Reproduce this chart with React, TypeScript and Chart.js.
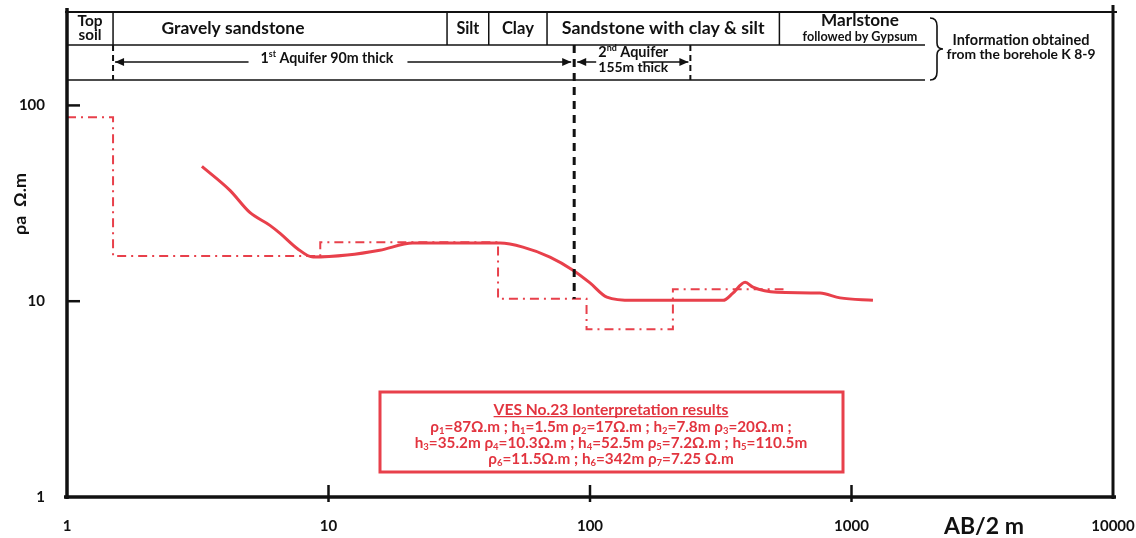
import React, { useEffect, useRef } from "react";
import { Chart, registerables } from "chart.js";

Chart.register(...registerables);

// Measured apparent resistivity curve (AB/2 in m, rho_a in ohm.m)
const abHalf = [3.28, 4.2, 5.0, 5.97, 6.53, 7.59, 8.73, 11.8, 15.7, 21.0, 26.7, 45.3, 55.4, 70.3, 86.1, 100, 116, 146, 197, 323, 352, 392, 420, 519, 758, 904, 1208];
const rhoApparent = [48.8, 36.8, 28.4, 24.4, 22.2, 18.6, 16.8, 17.2, 18.2, 19.8, 19.8, 19.8, 18.9, 16.8, 14.4, 12.4, 10.5, 10.1, 10.1, 10.1, 11.0, 12.5, 11.8, 11.1, 11.0, 10.4, 10.1];

// Interpreted layer model
const layerRho = [87, 17, 20, 10.3, 7.2, 11.5, 7.25];
const layerThickness = [1.5, 7.8, 35.2, 52.5, 110.5, 342];

// Borehole K 8-9 lithology (unit boundaries, m)
const lithoLabels = ["Top soil", "Gravely sandstone", "Silt", "Clay", "Sandstone with clay & silt", "Marlstone"];
const lithoBounds = [1.5, 28.4, 41, 68.5, 530];

// Aquifer limits (m)
const aquiferBounds = [1.5, 87, 242];

// Axis ticks
const xTicks = [1, 10, 100, 1000, 10000];
const yTicks = [1, 10, 100];

const legendTitle = "VES No.23 Ionterpretation results";
const legendLines = [
  "ρ_1=87Ω.m ; h_1=1.5m ρ_2=17Ω.m ; h_2=7.8m ρ_3=20Ω.m ;",
  "h_3=35.2m ρ_4=10.3Ω.m ; h_4=52.5m ρ_5=7.2Ω.m ; h_5=110.5m",
  "ρ_6=11.5Ω.m ; h_6=342m ρ_7=7.25 Ω.m",
];

const FONT = "Lato, 'Open Sans', sans-serif";
const RED = "#e8404b";
const TXTRED = "#e2343f";

type Seg = { t: string; k: number; w?: number };

function parseRich(text: string): Seg[] {
  const segs: Seg[] = [];
  let buf = "";
  let i = 0;
  while (i < text.length) {
    const c = text[i];
    if ((c === "_" || c === "^") && i + 1 < text.length) {
      if (buf) segs.push({ t: buf, k: 0 });
      buf = "";
      let j = i + 1;
      let s = "";
      if (text[j] === "{") {
        j++;
        while (j < text.length && text[j] !== "}") s += text[j++];
        j++;
      } else {
        s = text[j];
        j++;
      }
      segs.push({ t: s, k: c === "_" ? 1 : 2 });
      i = j;
      continue;
    }
    buf += c;
    i++;
  }
  if (buf) segs.push({ t: buf, k: 0 });
  return segs;
}

function measureRich(ctx: CanvasRenderingContext2D, segs: Seg[], size: number) {
  const small = size * 0.62;
  let w = 0;
  for (const s of segs) {
    ctx.font = `bold ${s.k ? small : size}px ${FONT}`;
    s.w = ctx.measureText(s.t).width;
    w += s.w;
  }
  return w;
}

function fitSize(ctx: CanvasRenderingContext2D, text: string, size: number, fitW: number) {
  const w = measureRich(ctx, parseRich(text), size);
  return (size * fitW) / w;
}

// draws rich text centred at cx; if fitW given, font size is adjusted so the width equals fitW
function drawRich(ctx: CanvasRenderingContext2D, text: string, cx: number, cy: number, size: number, color: string, fitW?: number) {
  const segs = parseRich(text);
  let w = measureRich(ctx, segs, size);
  if (fitW) {
    size = size * (fitW / w);
    w = measureRich(ctx, segs, size);
  }
  const small = size * 0.62;
  let x = cx - w / 2;
  const base = cy + size * 0.36;
  ctx.save();
  ctx.fillStyle = color;
  ctx.textAlign = "left";
  ctx.textBaseline = "alphabetic";
  for (const s of segs) {
    ctx.font = `bold ${s.k ? small : size}px ${FONT}`;
    const y = base + (s.k === 1 ? size * 0.18 : s.k === 2 ? -size * 0.42 : 0);
    ctx.fillText(s.t, x, y);
    x += s.w || 0;
  }
  ctx.restore();
  return { left: cx - w / 2, width: w, base };
}

function line(ctx: CanvasRenderingContext2D, x1: number, y1: number, x2: number, y2: number, w: number, color = "#111", dash: number[] = []) {
  ctx.save();
  ctx.strokeStyle = color;
  ctx.lineWidth = w;
  ctx.setLineDash(dash);
  ctx.beginPath();
  ctx.moveTo(x1, y1);
  ctx.lineTo(x2, y2);
  ctx.stroke();
  ctx.restore();
}

function arrowHead(ctx: CanvasRenderingContext2D, x: number, y: number, dir: number) {
  ctx.save();
  ctx.fillStyle = "#111";
  ctx.beginPath();
  ctx.moveTo(x, y);
  ctx.lineTo(x - dir * 9, y - 4);
  ctx.lineTo(x - dir * 9, y + 4);
  ctx.closePath();
  ctx.fill();
  ctx.restore();
}

function text(ctx: CanvasRenderingContext2D, s: string, x: number, y: number, size: number, fitW?: number, color = "#111") {
  ctx.save();
  ctx.font = `bold ${size}px ${FONT}`;
  if (fitW) {
    const w = ctx.measureText(s).width;
    size = (size * fitW) / w;
    ctx.font = `bold ${size}px ${FONT}`;
  }
  ctx.fillStyle = color;
  ctx.textAlign = "center";
  ctx.textBaseline = "middle";
  ctx.fillText(s, x, y);
  ctx.restore();
}

const overlay = {
  id: "vesOverlay",
  afterDatasetsDraw(chart: any) {
    const ctx: CanvasRenderingContext2D = chart.ctx;
    const { left, right, top, bottom } = chart.chartArea;
    const xs = chart.scales.x;
    const ys = chart.scales.y;
    const px = (v: number) => xs.getPixelForValue(v);
    const py = (v: number) => ys.getPixelForValue(v);

    // frame / axes
    line(ctx, left, top - 4, left, bottom + 2, 3.5);
    line(ctx, left - 3, bottom, right + 3, bottom, 3.5);
    line(ctx, right, top - 7, right, bottom + 2, 3);
    line(ctx, left - 2, top, right + 4, top, 2);

    // tick marks
    for (const v of yTicks) {
      if (v === yTicks[0]) continue;
      line(ctx, left, py(v), left + 13, py(v), 2.5);
    }
    for (const v of xTicks) {
      if (v === xTicks[0] || v === xTicks[xTicks.length - 1]) continue;
      line(ctx, px(v), bottom - 12, px(v), bottom + 5, 2.5);
    }

    // header table
    const r1 = top + 33;
    const r2 = top + 68;
    const tableRight = 925;
    line(ctx, left, r1, tableRight, r1, 1.5);
    line(ctx, left, r2, tableRight, r2, 1.5);
    const bx = lithoBounds.map(px);
    for (const x of bx) line(ctx, x, top, x, r1, 1.5);
    const cy1 = (top + r1) / 2;
    text(ctx, "Top", (left + bx[0]) / 2, top + 9, 13, 25);
    text(ctx, "soil", (left + bx[0]) / 2, top + 23, 13, 23);
    text(ctx, lithoLabels[1], 233, cy1, 15, 143);
    text(ctx, lithoLabels[2], (bx[1] + bx[2]) / 2, cy1, 15, 23);
    text(ctx, lithoLabels[3], (bx[2] + bx[3]) / 2, cy1, 15, 32);
    text(ctx, lithoLabels[4], (bx[3] + bx[4]) / 2, cy1, 15, 203);
    text(ctx, lithoLabels[5], 860, top + 8, 16, 78);
    text(ctx, "followed by Gypsum", 860, top + 25, 10.5, 115);

    // brace
    ctx.save();
    ctx.strokeStyle = "#111";
    ctx.lineWidth = 1.6;
    ctx.beginPath();
    const bxs = 930;
    const ytop = top + 6;
    const ybot = r2;
    const ym = (ytop + ybot) / 2;
    ctx.moveTo(bxs, ytop);
    ctx.quadraticCurveTo(bxs + 7, ytop, bxs + 7, ytop + 8);
    ctx.lineTo(bxs + 7, ym - 6);
    ctx.quadraticCurveTo(bxs + 7, ym, bxs + 13, ym);
    ctx.quadraticCurveTo(bxs + 7, ym, bxs + 7, ym + 6);
    ctx.lineTo(bxs + 7, ybot - 8);
    ctx.quadraticCurveTo(bxs + 7, ybot, bxs, ybot);
    ctx.stroke();
    ctx.restore();
    text(ctx, "Information obtained", 1021, top + 28, 12.5, 137);
    text(ctx, "from the borehole K 8-9", 1021, top + 43, 12.5, 149);

    // aquifers
    const a0 = px(aquiferBounds[0]);
    const a1 = px(aquiferBounds[1]);
    const a2 = px(aquiferBounds[2]);
    line(ctx, a0, r1, a0, r2, 2, "#111", [6, 4]);
    line(ctx, a2, r1, a2, r2, 2, "#111", [6, 4]);
    line(ctx, a1, r1, a1, py(layerRho[3]), 3, "#111", [8, 6]);
    const ay = top + 50;
    const t1 = drawRich(ctx, "1^{st} Aquifer 90m thick", 327, ay - 4, 12.5, "#111", 133);
    line(ctx, a0 + 2, ay, t1.left - 12, ay, 1.5);
    arrowHead(ctx, a0 + 2, ay, -1);
    line(ctx, t1.left + t1.width + 14, ay, a1 - 3, ay, 1.5);
    arrowHead(ctx, a1 - 3, ay, 1);
    drawRich(ctx, "2^{nd} Aquifer", (a1 + a2) / 2 + 1, top + 40, 12.5, "#111", 70);
    text(ctx, "155m thick", (a1 + a2) / 2 + 1, top + 56, 12.5, 70);
    line(ctx, a1 + 3, ay, a1 + 22, ay, 1.5);
    arrowHead(ctx, a1 + 3, ay, -1);
    line(ctx, a2 - 48, ay, a2 - 2, ay, 1.5);
    arrowHead(ctx, a2 - 2, ay, 1);

    // legend box
    ctx.save();
    ctx.strokeStyle = RED;
    ctx.lineWidth = 3;
    ctx.strokeRect(380, 392, 463, 80);
    ctx.restore();
    const lcx = 611;
    const tt = drawRich(ctx, legendTitle, lcx, 409, 13.5, TXTRED, 235);
    line(ctx, tt.left, tt.base + 2, tt.left + tt.width, tt.base + 2, 1.3, TXTRED);
    const lsize = fitSize(ctx, legendLines[1], 13, 393);
    legendLines.forEach((s, i) => drawRich(ctx, s, lcx, 426 + i * 16, lsize, TXTRED));

    // axis titles
    text(ctx, "AB/2 m", 984, 527, 18, 80);
    ctx.save();
    ctx.translate(20, 204);
    ctx.rotate(-Math.PI / 2);
    text(ctx, "ρa  Ω.m", 0, 0, 16, 62);
    ctx.restore();
  },
};

export default function App() {
  const ref = useRef<HTMLCanvasElement | null>(null);
  useEffect(() => {
    document.body.style.margin = "0";
    const canvas = ref.current;
    if (!canvas) return;
    const depths: number[] = [];
    let acc = 0;
    for (const h of layerThickness) {
      acc += h;
      depths.push(Math.round(acc * 10) / 10);
    }
    const model = [{ x: xTicks[0], y: layerRho[0] }];
    for (let i = 0; i < depths.length - 1; i++) model.push({ x: depths[i], y: layerRho[i + 1] });
    model.push({ x: depths[depths.length - 1], y: layerRho[depths.length - 1] });
    const measured = abHalf.map((x, i) => ({ x, y: rhoApparent[i] }));

    const zeroPad = (s: any) => {
      s.paddingTop = 0;
      s.paddingBottom = 0;
      s.paddingLeft = 0;
      s.paddingRight = 0;
    };

    const chart = new Chart(canvas, {
      type: "scatter",
      data: {
        datasets: [
          {
            data: model,
            showLine: true,
            stepped: "before",
            borderColor: RED,
            borderWidth: 2,
            borderDash: [9, 5, 2, 5],
            pointRadius: 0,
          } as any,
          {
            data: measured,
            showLine: true,
            borderColor: RED,
            borderWidth: 3,
            cubicInterpolationMode: "monotone",
            pointRadius: 0,
          } as any,
        ],
      },
      options: {
        responsive: false,
        animation: false,
        layout: { padding: { top: 12, right: 23, left: 0, bottom: 0 } },
        plugins: { legend: { display: false }, tooltip: { enabled: false } },
        scales: {
          x: {
            type: "logarithmic",
            min: 1,
            max: 10000,
            border: { display: false },
            grid: { display: false },
            afterBuildTicks: (s: any) => {
              s.ticks = xTicks.map((v) => ({ value: v }));
            },
            afterFit: (s: any) => {
              s.height = 41;
              zeroPad(s);
            },
            ticks: {
              padding: 12,
              color: "#111",
              font: { family: FONT, size: 15, weight: "bold" },
              callback: (v: any) => String(v),
              maxRotation: 0,
            },
          },
          y: {
            type: "logarithmic",
            min: 1,
            max: 300,
            border: { display: false },
            grid: { display: false },
            afterBuildTicks: (s: any) => {
              s.ticks = yTicks.map((v) => ({ value: v }));
            },
            afterFit: (s: any) => {
              s.width = 67;
              zeroPad(s);
            },
            ticks: {
              padding: 14,
              color: "#111",
              font: { family: FONT, size: 15, weight: "bold" },
              callback: (v: any) => String(v),
            },
          },
        },
      },
      plugins: [overlay],
    });
    return () => chart.destroy();
  }, []);
  return (
    <div style={{ width: 1136, height: 538, background: "#fff" }}>
      <canvas ref={ref} width={1136} height={538} style={{ display: "block" }} />
    </div>
  );
}
